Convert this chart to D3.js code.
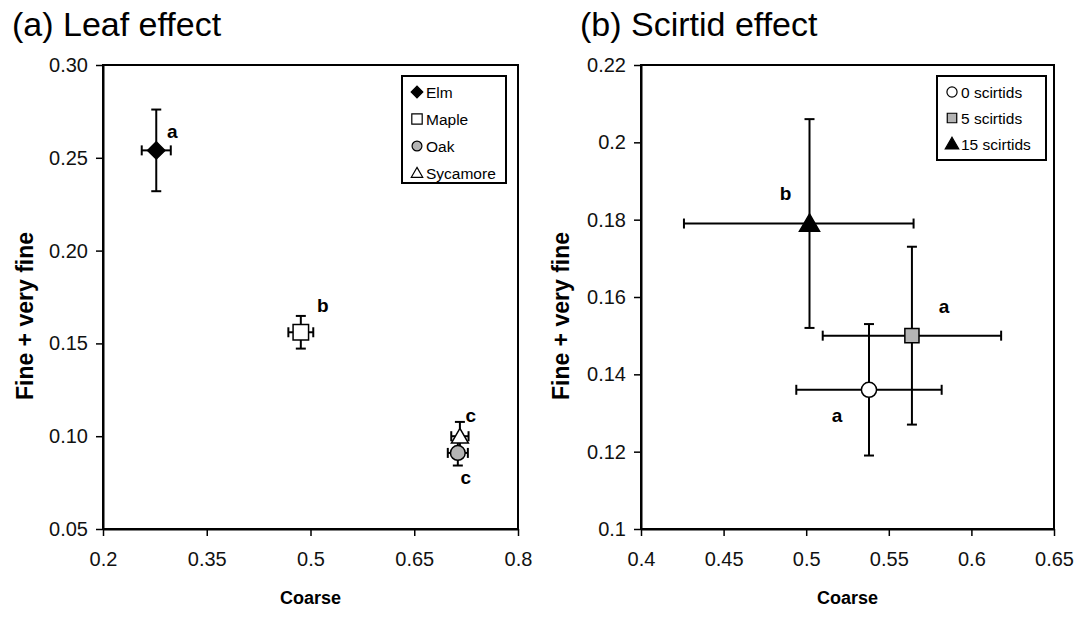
<!DOCTYPE html>
<html>
<head>
<meta charset="utf-8">
<script src="https://cdn.jsdelivr.net/npm/d3@7"></script>
<style>
  body { margin: 0; background: #fff; }
  svg { display: block; font-family: "Liberation Sans", Arial, sans-serif; }
</style>
</head>
<body>
<div id="chart"></div>
<script>
// (a) leaf effect
const leafNames = ["Elm", "Maple", "Oak", "Sycamore"];
const leafCoarse = [0.277, 0.486, 0.713, 0.716];
const leafCoarseErrLo = [0.021, 0.018, 0.0145, 0.0125];
const leafCoarseErrHi = [0.021, 0.018, 0.0145, 0.0125];
const leafFine = [0.254, 0.156, 0.091, 0.100];
const leafFineErr = [0.022, 0.0088, 0.0068, 0.0077];
const leafLetters = ["a", "b", "c", "c"];
const leafXTicks = [0.2, 0.35, 0.5, 0.65, 0.8];
const leafYTicks = [0.05, 0.10, 0.15, 0.20, 0.25, 0.30];

// (b) scirtid effect
const scirtidNames = ["0 scirtids", "5 scirtids", "15 scirtids"];
const scirtidCoarse = [0.538, 0.564, 0.502];
const scirtidCoarseErrLo = [0.044, 0.054, 0.076];
const scirtidCoarseErrHi = [0.044, 0.054, 0.063];
const scirtidFine = [0.136, 0.150, 0.179];
const scirtidFineErr = [0.017, 0.023, 0.027];
const scirtidLetters = ["a", "a", "b"];
const scirtidXTicks = [0.4, 0.45, 0.5, 0.55, 0.6, 0.65];
const scirtidYTicks = [0.1, 0.12, 0.14, 0.16, 0.18, 0.2, 0.22];

const width = 1079, height = 620;
const svg = d3.select("#chart").append("svg")
  .attr("width", width).attr("height", height);

// marker styles (rot = rotate a square into a diamond)
const markers = {
  Elm: { shape: d3.symbolSquare, size: 150, fill: "#000", rot: 45 },
  Maple: { shape: d3.symbolSquare, size: 240, fill: "#fff" },
  Oak: { shape: d3.symbolCircle, size: 170, fill: "#b4b4b4" },
  Sycamore: { shape: d3.symbolTriangle, size: 125, fill: "#fff" },
  "0 scirtids": { shape: d3.symbolCircle, size: 180, fill: "#fff" },
  "5 scirtids": { shape: d3.symbolSquare, size: 200, fill: "#b4b4b4" },
  "15 scirtids": { shape: d3.symbolTriangle, size: 175, fill: "#000" }
};
// letter offsets in px from each point
const leafLabelOff = [[16, -19], [22, -27], [8, 25], [11, -21]];
const scirtidLabelOff = [[-32, 26], [32, -29], [-24, -30]];

function panel(opt) {
  const x = d3.scaleLinear().domain(opt.xDomain).range(opt.xRange);
  const y = d3.scaleLinear().domain(opt.yDomain).range(opt.yRange);
  const g = svg.append("g");

  g.append("rect")
    .attr("x", opt.xRange[0]).attr("y", opt.yRange[1])
    .attr("width", opt.xRange[1] - opt.xRange[0])
    .attr("height", opt.yRange[0] - opt.yRange[1])
    .attr("fill", "none").attr("stroke", "#000").attr("stroke-width", 2);

  const yAxis = g.append("g")
    .attr("transform", `translate(${opt.xRange[0]},0)`)
    .call(d3.axisLeft(y).tickValues(opt.yTicks).tickFormat(opt.yFormat)
      .tickSize(7).tickSizeOuter(0).tickPadding(8));
  const xAxis = g.append("g")
    .attr("transform", `translate(0,${opt.yRange[0]})`)
    .call(d3.axisBottom(x).tickValues(opt.xTicks).tickFormat(opt.xFormat)
      .tickSize(7).tickSizeOuter(0).tickPadding(16));
  [xAxis, yAxis].forEach(a => {
    a.select(".domain").attr("stroke-width", 2);
    a.selectAll(".tick line").attr("stroke-width", 1.5);
    a.selectAll("text").style("font-size", "20px").attr("fill", "#111")
      .style("font-family", "'Liberation Sans', Arial, sans-serif");
  });

  // titles
  svg.append("text").attr("x", opt.titleX).attr("y", 36)
    .style("font-size", "34px").text(opt.title);
  svg.append("text")
    .attr("x", (opt.xRange[0] + opt.xRange[1]) / 2).attr("y", 604)
    .attr("text-anchor", "middle")
    .style("font-size", "18px").style("font-weight", "bold").text("Coarse");
  svg.append("text")
    .attr("transform", `translate(${opt.yTitleX},316) rotate(-90)`)
    .attr("text-anchor", "middle").attr("dominant-baseline", "central")
    .style("font-size", "23px").style("font-weight", "bold").text("Fine + very fine");

  // error bars
  const pts = opt.names.map((n, i) => ({
    name: n, cx: opt.xs[i], cy: opt.ys[i],
    exLo: opt.xErrLo[i], exHi: opt.xErrHi[i], ey: opt.yErr[i],
    letter: opt.letters[i], off: opt.labelOff[i]
  }));
  const ordered = opt.drawOrder.map(i => pts[i]);
  const cap = 5;
  ordered.forEach(p => {
    const eg = g.append("g").attr("stroke", "#000").attr("stroke-width", 2);
    const x0 = x(p.cx - p.exLo), x1 = x(p.cx + p.exHi);
    const y0 = y(p.cy - p.ey), y1 = y(p.cy + p.ey);
    eg.append("line").attr("x1", x0).attr("x2", x1).attr("y1", y(p.cy)).attr("y2", y(p.cy));
    eg.append("line").attr("x1", x(p.cx)).attr("x2", x(p.cx)).attr("y1", y0).attr("y2", y1);
    [x0, x1].forEach(xx => eg.append("line").attr("x1", xx).attr("x2", xx)
      .attr("y1", y(p.cy) - cap).attr("y2", y(p.cy) + cap));
    [y0, y1].forEach(yy => eg.append("line").attr("y1", yy).attr("y2", yy)
      .attr("x1", x(p.cx) - cap).attr("x2", x(p.cx) + cap));
  });
  ordered.forEach(p => {
    const m = markers[p.name];
    const dy = m.shape === d3.symbolTriangle ? 2 : 0;
    g.append("path")
      .attr("d", d3.symbol(m.shape, m.size)())
      .attr("transform", `translate(${x(p.cx)},${y(p.cy) + dy}) rotate(${m.rot || 0})`)
      .attr("fill", m.fill).attr("stroke", "#000").attr("stroke-width", 1.5);
  });
  pts.forEach(p => {
    g.append("text")
      .attr("x", x(p.cx) + p.off[0]).attr("y", y(p.cy) + p.off[1])
      .attr("text-anchor", "middle").attr("dominant-baseline", "central")
      .style("font-size", "19px").style("font-weight", "bold").text(p.letter);
  });

  // legend
  const L = opt.legend;
  const lg = svg.append("g").attr("transform", `translate(${L.x},${L.y})`);
  lg.append("rect").attr("width", L.w).attr("height", L.h)
    .attr("fill", "#fff").attr("stroke", "#000").attr("stroke-width", 2);
  opt.names.forEach((n, i) => {
    const m = markers[n];
    const yy = 16 + i * L.step;
    lg.append("path")
      .attr("d", d3.symbol(m.shape, m.size * 0.45)())
      .attr("transform", `translate(15,${yy + (m.shape === d3.symbolTriangle ? 1 : 0)}) rotate(${m.rot || 0})`)
      .attr("fill", m.fill).attr("stroke", "#000").attr("stroke-width", 1.2);
    lg.append("text").attr("x", 24).attr("y", yy)
      .attr("dominant-baseline", "central")
      .style("font-size", "15.5px").text(n);
  });
}

panel({
  title: "(a) Leaf effect", titleX: 12, yTitleX: 25,
  xDomain: [0.2, 0.8], yDomain: [0.05, 0.30],
  xRange: [103, 518], yRange: [529, 65],
  xTicks: leafXTicks, yTicks: leafYTicks,
  xFormat: d3.format(""), yFormat: d3.format(".2f"),
  names: leafNames, xs: leafCoarse, ys: leafFine,
  xErrLo: leafCoarseErrLo, xErrHi: leafCoarseErrHi, yErr: leafFineErr,
  letters: leafLetters, labelOff: leafLabelOff, drawOrder: [0, 1, 3, 2],
  legend: { x: 402, y: 76, w: 104, h: 107, step: 27 }
});

panel({
  title: "(b) Scirtid effect", titleX: 580, yTitleX: 561,
  xDomain: [0.4, 0.65], yDomain: [0.1, 0.22],
  xRange: [641, 1054], yRange: [529, 65],
  xTicks: scirtidXTicks, yTicks: scirtidYTicks,
  xFormat: d3.format(""), yFormat: d3.format(""),
  names: scirtidNames, xs: scirtidCoarse, ys: scirtidFine,
  xErrLo: scirtidCoarseErrLo, xErrHi: scirtidCoarseErrHi, yErr: scirtidFineErr,
  letters: scirtidLetters, labelOff: scirtidLabelOff, drawOrder: [0, 1, 2],
  legend: { x: 937, y: 76, w: 109, h: 84, step: 26 }
});
</script>
</body>
</html>
